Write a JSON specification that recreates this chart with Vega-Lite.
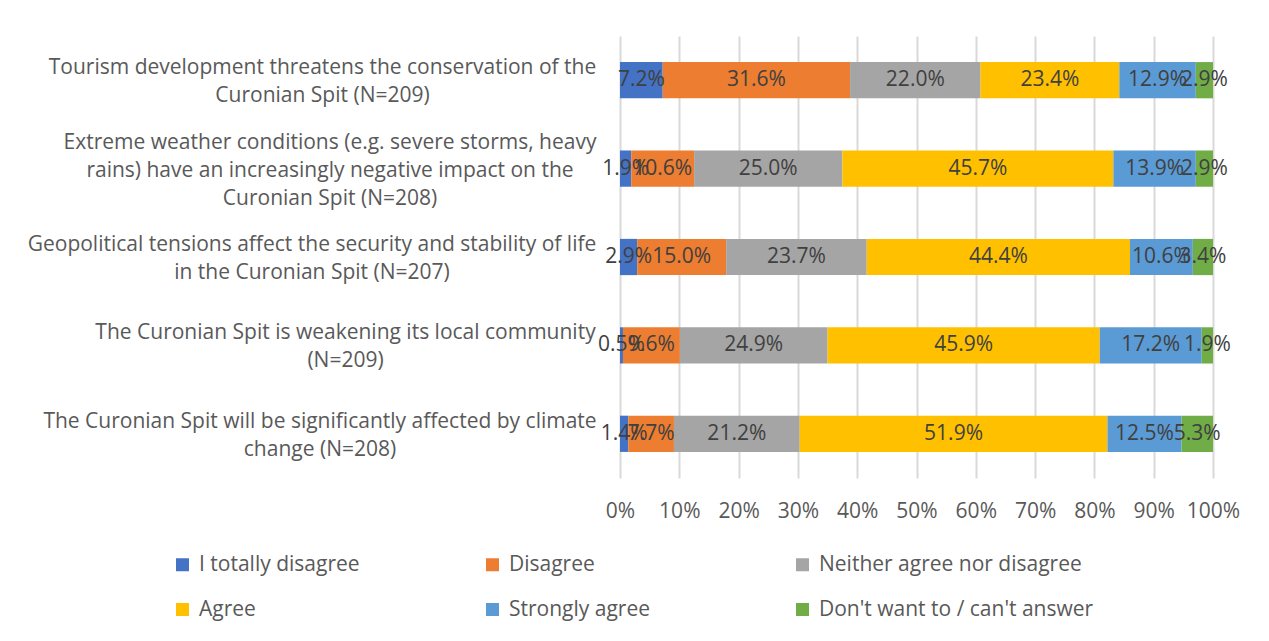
{
  "$schema": "https://vega.github.io/schema/vega-lite/v6.json",
  "autosize": {"type": "none"},
  "width": 593,
  "height": 442,
  "padding": {"left": 620, "top": 36, "right": 56, "bottom": 163},
  "background": "white",
  "config": {
    "font": "Open Sans",
    "view": {"stroke": null}
  },
  "data": {
    "values": [
      {"q": "Tourism development threatens the conservation of the|Curonian Spit (N=209)", "qo": 1, "cat": "I totally disagree", "o": 1, "v": 0.072},
      {"q": "Tourism development threatens the conservation of the|Curonian Spit (N=209)", "qo": 1, "cat": "Disagree", "o": 2, "v": 0.316},
      {"q": "Tourism development threatens the conservation of the|Curonian Spit (N=209)", "qo": 1, "cat": "Neither agree nor disagree", "o": 3, "v": 0.220},
      {"q": "Tourism development threatens the conservation of the|Curonian Spit (N=209)", "qo": 1, "cat": "Agree", "o": 4, "v": 0.234},
      {"q": "Tourism development threatens the conservation of the|Curonian Spit (N=209)", "qo": 1, "cat": "Strongly agree", "o": 5, "v": 0.129},
      {"q": "Tourism development threatens the conservation of the|Curonian Spit (N=209)", "qo": 1, "cat": "Don't want to / can't answer", "o": 6, "v": 0.029},
      {"q": "Extreme weather conditions (e.g. severe storms, heavy|rains) have an increasingly negative impact on the|Curonian Spit (N=208)", "qo": 2, "cat": "I totally disagree", "o": 1, "v": 0.019},
      {"q": "Extreme weather conditions (e.g. severe storms, heavy|rains) have an increasingly negative impact on the|Curonian Spit (N=208)", "qo": 2, "cat": "Disagree", "o": 2, "v": 0.106},
      {"q": "Extreme weather conditions (e.g. severe storms, heavy|rains) have an increasingly negative impact on the|Curonian Spit (N=208)", "qo": 2, "cat": "Neither agree nor disagree", "o": 3, "v": 0.250},
      {"q": "Extreme weather conditions (e.g. severe storms, heavy|rains) have an increasingly negative impact on the|Curonian Spit (N=208)", "qo": 2, "cat": "Agree", "o": 4, "v": 0.457},
      {"q": "Extreme weather conditions (e.g. severe storms, heavy|rains) have an increasingly negative impact on the|Curonian Spit (N=208)", "qo": 2, "cat": "Strongly agree", "o": 5, "v": 0.139},
      {"q": "Extreme weather conditions (e.g. severe storms, heavy|rains) have an increasingly negative impact on the|Curonian Spit (N=208)", "qo": 2, "cat": "Don't want to / can't answer", "o": 6, "v": 0.029},
      {"q": "Geopolitical tensions affect the security and stability of life|in the Curonian Spit (N=207)", "qo": 3, "cat": "I totally disagree", "o": 1, "v": 0.029},
      {"q": "Geopolitical tensions affect the security and stability of life|in the Curonian Spit (N=207)", "qo": 3, "cat": "Disagree", "o": 2, "v": 0.150},
      {"q": "Geopolitical tensions affect the security and stability of life|in the Curonian Spit (N=207)", "qo": 3, "cat": "Neither agree nor disagree", "o": 3, "v": 0.237},
      {"q": "Geopolitical tensions affect the security and stability of life|in the Curonian Spit (N=207)", "qo": 3, "cat": "Agree", "o": 4, "v": 0.444},
      {"q": "Geopolitical tensions affect the security and stability of life|in the Curonian Spit (N=207)", "qo": 3, "cat": "Strongly agree", "o": 5, "v": 0.106},
      {"q": "Geopolitical tensions affect the security and stability of life|in the Curonian Spit (N=207)", "qo": 3, "cat": "Don't want to / can't answer", "o": 6, "v": 0.034},
      {"q": "The Curonian Spit is weakening its local community|(N=209)", "qo": 4, "cat": "I totally disagree", "o": 1, "v": 0.005},
      {"q": "The Curonian Spit is weakening its local community|(N=209)", "qo": 4, "cat": "Disagree", "o": 2, "v": 0.096},
      {"q": "The Curonian Spit is weakening its local community|(N=209)", "qo": 4, "cat": "Neither agree nor disagree", "o": 3, "v": 0.249},
      {"q": "The Curonian Spit is weakening its local community|(N=209)", "qo": 4, "cat": "Agree", "o": 4, "v": 0.459},
      {"q": "The Curonian Spit is weakening its local community|(N=209)", "qo": 4, "cat": "Strongly agree", "o": 5, "v": 0.172},
      {"q": "The Curonian Spit is weakening its local community|(N=209)", "qo": 4, "cat": "Don't want to / can't answer", "o": 6, "v": 0.019},
      {"q": "The Curonian Spit will be significantly affected by climate|change (N=208)", "qo": 5, "cat": "I totally disagree", "o": 1, "v": 0.014},
      {"q": "The Curonian Spit will be significantly affected by climate|change (N=208)", "qo": 5, "cat": "Disagree", "o": 2, "v": 0.077},
      {"q": "The Curonian Spit will be significantly affected by climate|change (N=208)", "qo": 5, "cat": "Neither agree nor disagree", "o": 3, "v": 0.212},
      {"q": "The Curonian Spit will be significantly affected by climate|change (N=208)", "qo": 5, "cat": "Agree", "o": 4, "v": 0.519},
      {"q": "The Curonian Spit will be significantly affected by climate|change (N=208)", "qo": 5, "cat": "Strongly agree", "o": 5, "v": 0.125},
      {"q": "The Curonian Spit will be significantly affected by climate|change (N=208)", "qo": 5, "cat": "Don't want to / can't answer", "o": 6, "v": 0.053}
    ]
  },
  "transform": [
    {"stack": "v", "groupby": ["q"], "sort": [{"field": "o", "order": "ascending"}], "as": ["x0", "x1"]},
    {"calculate": "(datum.x0 + datum.x1) / 2", "as": "xm"}
  ],
  "encoding": {
    "y": {
      "field": "q", "type": "nominal",
      "sort": {"field": "qo", "order": "ascending"},
      "scale": {"paddingInner": 0.59, "paddingOuter": 0.295},
      "axis": {
        "title": null, "domain": false, "ticks": false, "grid": false,
        "labelExpr": "split(datum.label, '|')",
        "labelAlign": "center", "labelLimit": 700,
        "labelPadding": {"condition": [
          {"test": "indexof(datum.value, 'Extreme') == 0", "value": 290.5},
          {"test": "indexof(datum.value, 'Geopolitical') == 0", "value": 308.5},
          {"test": "indexof(datum.value, 'The Curonian Spit is') == 0", "value": 275},
          {"test": "indexof(datum.value, 'The Curonian Spit will') == 0", "value": 300.5}
        ], "value": 298},
        "labelOffset": {"condition": {"test": "indexof(datum.value, 'Extreme') == 0", "value": -26}, "value": -12},
        "labelFontSize": 21, "labelColor": "#595959", "labelLineHeight": 28
      }
    }
  },
  "layer": [
    {
      "mark": {"type": "bar"},
      "encoding": {
        "x": {
          "field": "x0", "type": "quantitative",
          "scale": {"domain": [0, 1]},
          "axis": {
            "title": null, "format": "%", "values": [0,0.1,0.2,0.3,0.4,0.5,0.6,0.7,0.8,0.9,1],
            "labelOverlap": false, "labelFlush": false,
            "domain": false, "ticks": false, "grid": true, "gridColor": "#D9D9D9", "gridWidth": 2,
            "labelFontSize": 21, "labelColor": "#595959", "labelPadding": 22
          }
        },
        "x2": {"field": "x1"},
        "color": {
          "field": "cat", "type": "nominal",
          "sort": ["I totally disagree", "Disagree", "Neither agree nor disagree", "Agree", "Strongly agree", "Don't want to / can't answer"],
          "scale": {
            "domain": ["I totally disagree", "Disagree", "Neither agree nor disagree", "Agree", "Strongly agree", "Don't want to / can't answer"],
            "range": ["#4472C4", "#ED7D31", "#A5A5A5", "#FFC000", "#5B9BD5", "#70AD47"]
          },
          "legend": {
            "title": null, "orient": "none", "legendX": -448, "legendY": 518,
            "direction": "horizontal", "columns": 3, "gridAlign": "all", "columnPadding": 8, "rowPadding": 23,
            "symbolType": "square", "symbolSize": 169, "symbolStrokeWidth": 0, "symbolOffset": 0,
            "labelFontSize": 21, "labelColor": "#595959", "labelLimit": 400, "labelOffset": 6
          }
        }
      }
    },
    {
      "mark": {"type": "text", "fontSize": 21, "color": "#404040"},
      "encoding": {
        "x": {"field": "xm", "type": "quantitative"},
        "text": {"field": "v", "type": "quantitative", "format": ".1%"}
      }
    }
  ]
}
